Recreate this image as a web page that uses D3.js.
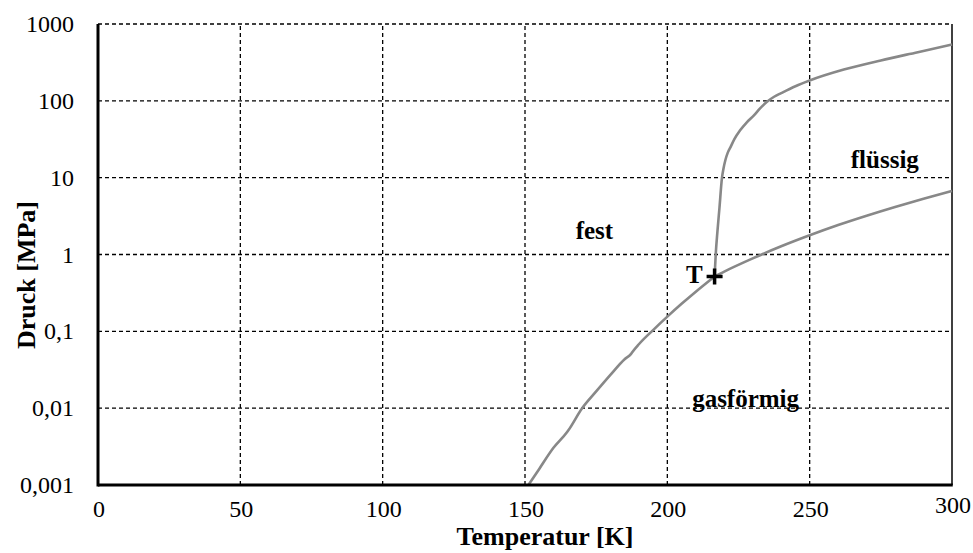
<!DOCTYPE html>
<html lang="de">
<head>
<meta charset="UTF-8">
<title>Phasendiagramm CO2</title>
<script src="https://d3js.org/d3.v7.min.js"></script>
<style>
    body { margin: 0; background: #fff; }
    svg { display: block; font-family: "Liberation Serif", "Times New Roman", serif; }
    .tick-label { font-size: 24px; fill: #000; }
    .title { font-size: 26px; font-weight: bold; fill: #000; }
    .region { font-size: 25px; font-weight: bold; fill: #000; }
</style>
</head>
<body>
<svg id="chart" width="973" height="553"></svg>
<script>
// Sublimationskurve (fest / gasförmig)
const sublT = [151.2, 155, 160, 164.8, 165.3, 170, 175, 180, 185, 187.2, 187.6, 190, 195, 200, 205, 210, 216.6];
const sublP = [0.001, 0.00162, 0.00305, 0.0049, 0.0052, 0.0099, 0.0165, 0.0271, 0.0434, 0.0505, 0.0530, 0.0679, 0.1038, 0.1553, 0.228, 0.328, 0.518];

// Dampfdruckkurve (flüssig / gasförmig)
const vapT = [216.6, 220, 230, 240, 250, 260, 270, 280, 290, 300];
const vapP = [0.518, 0.60, 0.89, 1.28, 1.78, 2.42, 3.20, 4.16, 5.32, 6.71];

// Schmelzkurve (fest / flüssig)
const meltT = [216.6, 217.0, 217.6, 218.3, 219.2, 219.7, 220.4, 221.2, 222.2, 223.6, 225.5, 228.0, 230.5, 232.5, 235.0, 237.5, 240.0, 245.0, 250.0, 262.0, 275.0, 288.0, 300.0];
const meltP = [0.518, 1.0, 2.0, 4.0, 10, 13, 17, 21, 25, 32, 41, 53, 65, 79, 97, 113, 126, 155, 184, 255, 336, 430, 540];

const triple = { T: 216.6, P: 0.518 };

const xTicks = [0, 50, 100, 150, 200, 250, 300];
const yTicks = [0.001, 0.01, 0.1, 1, 10, 100, 1000];
const yTickLabels = ["0,001", "0,01", "0,1", "1", "10", "100", "1000"];

const regions = [
    { text: "fest", T: 174.4, P: 1.6 },
    { text: "flüssig", T: 276.4, P: 13.5 },
    { text: "gasförmig", T: 227.5, P: 0.0105 }
];

const margin = { left: 98, top: 24, right: 21, bottom: 68 };
const width = 973, height = 553;

const svg = d3.select("#chart");

const x = d3.scaleLinear().domain([0, 300]).range([margin.left, width - margin.right]);
const y = d3.scaleLog().domain([0.001, 1000]).range([height - margin.bottom, margin.top]);

// Gitterlinien
svg.append("g")
    .selectAll("line")
    .data(yTicks.slice(1))
    .enter()
    .append("line")
    .attr("x1", x(0)).attr("x2", x(300))
    .attr("y1", d => y(d)).attr("y2", d => y(d))
    .attr("stroke", "#000").attr("stroke-width", 1.3)
    .attr("stroke-dasharray", "4,3");

svg.append("g")
    .selectAll("line")
    .data(xTicks.slice(1, -1))
    .enter()
    .append("line")
    .attr("x1", d => x(d)).attr("x2", d => x(d))
    .attr("y1", y(0.001)).attr("y2", y(1000))
    .attr("stroke", "#000").attr("stroke-width", 1.3)
    .attr("stroke-dasharray", "4,3");

// rechter Rand
svg.append("line")
    .attr("x1", x(300)).attr("x2", x(300))
    .attr("y1", y(0.001)).attr("y2", y(1000))
    .attr("stroke", "#000").attr("stroke-width", 1.5);

// Kurven
const line = d3.line()
    .curve(d3.curveMonotoneX)
    .x(d => x(d[0]))
    .y(d => y(d[1]));

const curves = [
    d3.zip(sublT, sublP),
    d3.zip(vapT, vapP),
    d3.zip(meltT, meltP)
];

svg.append("g")
    .selectAll("path")
    .data(curves)
    .enter()
    .append("path")
    .attr("d", line)
    .attr("fill", "none")
    .attr("stroke", "#888")
    .attr("stroke-width", 2.6)
    .attr("stroke-linejoin", "round");

// Achsen (links und unten, dick)
svg.append("line")
    .attr("x1", x(0)).attr("x2", x(0))
    .attr("y1", y(0.001) + 1.5).attr("y2", y(1000))
    .attr("stroke", "#000").attr("stroke-width", 3);
svg.append("line")
    .attr("x1", x(0)).attr("x2", x(300) + 0.75)
    .attr("y1", y(0.001)).attr("y2", y(0.001))
    .attr("stroke", "#000").attr("stroke-width", 3);

// Tick-Beschriftungen
svg.append("g")
    .selectAll("text")
    .data(yTicks)
    .enter()
    .append("text")
    .attr("class", "tick-label")
    .attr("x", margin.left - 24)
    .attr("y", d => y(d) + 8)
    .attr("text-anchor", "end")
    .text((d, i) => yTickLabels[i]);

svg.append("g")
    .selectAll("text")
    .data(xTicks)
    .enter()
    .append("text")
    .attr("class", "tick-label")
    .attr("x", d => x(d) + 1)
    .attr("y", d => y(0.001) + (d === 300 ? 28 : 32))
    .attr("text-anchor", "middle")
    .text(d => d);

// Achsentitel
svg.append("text")
    .attr("class", "title")
    .attr("x", 545)
    .attr("y", 545)
    .attr("text-anchor", "middle")
    .text("Temperatur [K]");

svg.append("text")
    .attr("class", "title")
    .attr("transform", "translate(35," + 275 + ") rotate(-90)")
    .attr("text-anchor", "middle")
    .text("Druck [MPa]");

// Bereichsbeschriftungen
svg.append("g")
    .selectAll("text")
    .data(regions)
    .enter()
    .append("text")
    .attr("class", "region")
    .attr("x", d => x(d.T))
    .attr("y", d => y(d.P))
    .attr("text-anchor", "middle")
    .text(d => d.text);

// Tripelpunkt
const tx = x(triple.T), ty = y(triple.P);
svg.append("path")
    .attr("d", `M${tx - 8},${ty}H${tx + 8}M${tx},${ty - 8}V${ty + 8}`)
    .attr("stroke", "#000")
    .attr("stroke-width", 3.5);
svg.append("text")
    .attr("class", "region")
    .attr("x", tx - 12)
    .attr("y", ty + 7)
    .attr("text-anchor", "end")
    .text("T");
</script>
</body>
</html>
